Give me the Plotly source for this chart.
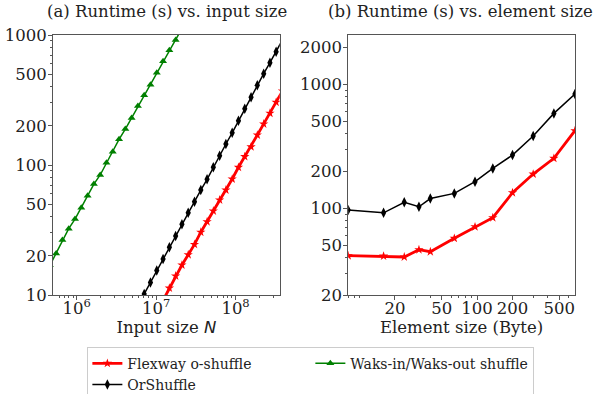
import plotly.graph_objects as go
from plotly.subplots import make_subplots

# ---------------- data: (a) runtime vs input size ----------------
flex_n = [1.223e7, 1.468e7, 1.761e7, 2.113e7, 2.536e7, 3.04e7, 3.65e7, 4.38e7, 5.25e7, 6.30e7,
          7.56e7, 9.07e7, 1.088e8, 1.306e8, 1.568e8, 1.88e8, 2.26e8, 2.71e8, 3.24e8, 3.89e8]
flex_t = [9.1, 11.3, 14.0, 17.0, 20.4, 24.5, 30.4, 36.6, 44.3, 53.8,
          64.2, 78.0, 96.0, 116, 138, 170, 207, 250, 304, 371]

or_n = [5.90e6, 7.08e6, 8.49e6, 1.019e7, 1.223e7, 1.468e7, 1.761e7, 2.113e7, 2.536e7, 3.04e7,
        3.65e7, 4.38e7, 5.25e7, 6.30e7, 7.56e7, 9.07e7, 1.088e8, 1.306e8, 1.568e8, 1.88e8,
        2.26e8, 2.71e8, 3.24e8, 3.89e8]
or_t = [8.3, 10.2, 12.5, 15.4, 18.9, 23.3, 28.4, 35.0, 43.0, 52.2,
        64.2, 77.6, 96.0, 118, 145, 177, 219, 271, 332, 410,
        504, 612, 744, 916]

waks_n = [4.60e5, 5.52e5, 6.62e5, 7.94e5, 9.53e5, 1.143e6, 1.372e6, 1.647e6, 1.976e6, 2.371e6,
          2.845e6, 3.414e6, 4.097e6, 4.916e6, 5.90e6, 7.08e6, 8.49e6, 1.019e7, 1.223e7, 1.468e7,
          1.761e7, 2.113e7]
waks_t = [16.9, 20.9, 26.5, 32.4, 38.4, 47.0, 58.0, 71.4, 83.8, 104,
          126.6, 157.7, 189, 230, 284, 344, 415, 512, 628, 762,
          916, 1122]

# ---------------- data: (b) runtime vs element size ----------------
elem_size = [8, 16, 24, 32, 40, 64, 96, 136, 200, 300, 450, 680]
flex_elem_t = [41.5, 41.2, 40.5, 46.4, 44.7, 57.3, 71, 84, 133.6, 189, 253, 423]
or_elem_t = [96.8, 92, 112, 103, 120, 132, 164, 210, 269, 383, 583, 835]

# ---------------- tick labels ----------------
a_x_ticks = [1e6, 1e7, 1e8]
a_x_text = ["10<sup>6</sup>", "10<sup>7</sup>", "10<sup>8</sup>"]
a_y_ticks = [10, 20, 50, 100, 200, 500, 1000]
b_x_ticks = [20, 50, 100, 200, 500]
b_y_ticks = [20, 50, 100, 200, 500, 1000, 2000]

FONT = "DejaVu Serif, Liberation Serif, serif"
AX = "#555555"
TXT = "#222222"
FS = 16.5
RED, BLACK, GREEN = "#ff0000", "#000000", "#008000"

fig = make_subplots(rows=1, cols=2, horizontal_spacing=0.131)

fig.add_trace(go.Scatter(x=flex_n, y=flex_t, mode="lines+markers", name="Flexway o-shuffle",
                         line=dict(color=RED, width=2.8),
                         marker=dict(symbol="star", size=7, color=RED), legendgroup="f"),
              row=1, col=1)
fig.add_trace(go.Scatter(x=waks_n, y=waks_t, mode="lines+markers", name="Waks-in/Waks-out shuffle",
                         line=dict(color=GREEN, width=1.5),
                         marker=dict(symbol="triangle-up", size=7, color=GREEN), legendgroup="w"),
              row=1, col=1)
fig.add_trace(go.Scatter(x=or_n, y=or_t, mode="lines+markers", name="OrShuffle",
                         line=dict(color=BLACK, width=1.5),
                         marker=dict(symbol="diamond-tall", size=7.5, color=BLACK), legendgroup="o"),
              row=1, col=1)

fig.add_trace(go.Scatter(x=elem_size, y=flex_elem_t, mode="lines+markers", showlegend=False,
                         line=dict(color=RED, width=2.8),
                         marker=dict(symbol="star", size=7, color=RED), legendgroup="f"),
              row=1, col=2)
fig.add_trace(go.Scatter(x=elem_size, y=or_elem_t, mode="lines+markers", showlegend=False,
                         line=dict(color=BLACK, width=1.5),
                         marker=dict(symbol="diamond-tall", size=7.5, color=BLACK), legendgroup="o"),
              row=1, col=2)

common = dict(type="log", showline=True, mirror=True, linecolor=AX, linewidth=1,
              showgrid=False, zeroline=False, ticks="outside", ticklen=4, tickcolor=AX,
              tickfont=dict(family=FONT, size=FS, color=TXT),
              minor=dict(ticks="outside", ticklen=2, tickcolor=AX, dtick="D1", showgrid=False))

fig.update_xaxes(common, row=1, col=1, range=[5.702, 8.557], tickmode="array",
                 tickvals=a_x_ticks, ticktext=a_x_text, ticklabelstandoff=-6,
                 title=dict(text="Input size <span style=\"font-family:DejaVu Sans\"><i>N</i></span>",
                            font=dict(family=FONT, size=FS, color=TXT), standoff=1))
fig.update_yaxes(common, row=1, col=1, range=[1, 3], tickmode="array", ticklabelstandoff=-2,
                 tickvals=a_y_ticks, ticktext=[str(v) for v in a_y_ticks])
fig.update_xaxes(common, row=1, col=2, range=[0.903, 2.833], tickmode="array",
                 tickvals=b_x_ticks, ticktext=[str(v) for v in b_x_ticks], ticklabelstandoff=-6,
                 title=dict(text="Element size (Byte)",
                            font=dict(family=FONT, size=FS, color=TXT), standoff=1))
fig.update_yaxes(common, row=1, col=2, range=[1.301, 3.398], tickmode="array", ticklabelstandoff=-2,
                 tickvals=b_y_ticks, ticktext=[str(v) for v in b_y_ticks])

for x, txt in [(0.2176, "(a) Runtime (s) vs. input size"), (0.7816, "(b) Runtime (s) vs. element size")]:
    fig.add_annotation(text=txt, x=x, y=1, xref="paper", yref="paper", yshift=23.3,
                       xanchor="center", yanchor="middle", showarrow=False,
                       font=dict(family=FONT, size=FS, color=TXT))

fig.update_layout(
    width=597, height=394,
    margin=dict(l=53, r=22, t=35, b=99, autoexpand=False),
    paper_bgcolor="white", plot_bgcolor="white",
    font=dict(family=FONT, size=FS, color=TXT),
    legend=dict(orientation="h", x=0.494, xanchor="center", y=-0.199, yanchor="top",
                entrywidth=178, entrywidthmode="pixels",
                bordercolor="#cccccc", borderwidth=1, bgcolor="white",
                font=dict(family=FONT, size=14, color=TXT), itemwidth=30,
                tracegroupgap=0),
)

fig.write_html("out.html", config={"displayModeBar": False},
               post_script="document.body.style.margin='0';")
